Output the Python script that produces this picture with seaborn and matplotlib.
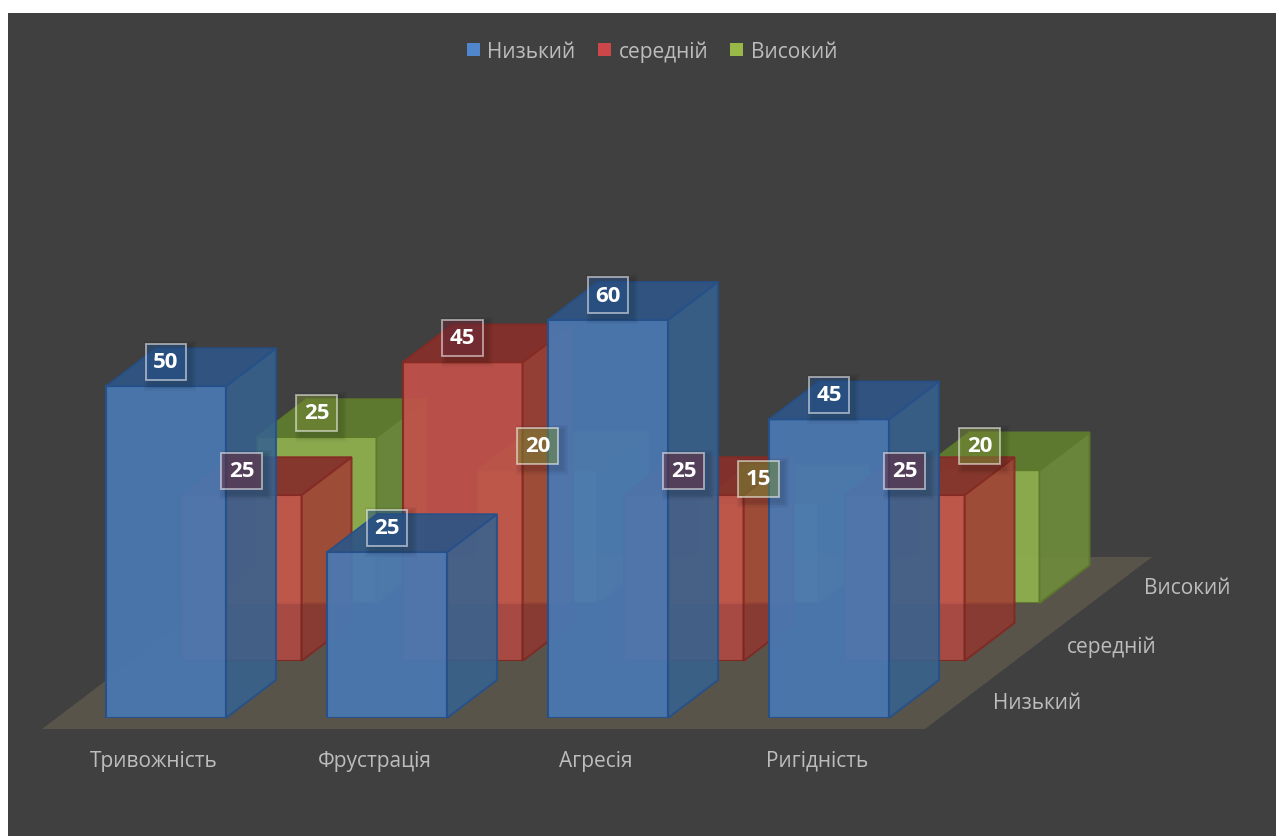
import matplotlib
matplotlib.use("Agg")
import matplotlib.pyplot as plt
from matplotlib.colors import to_rgba
from matplotlib.patches import Patch, Polygon, Rectangle
import seaborn as sns
import pandas as pd

categories = ["Тривожність", "Фрустрація", "Агресія", "Ригідність"]
levels = ["Низький", "середній", "Високий"]
low_values = [50, 25, 60, 45]
mid_values = [25, 45, 25, 25]
high_values = [25, 20, 15, 20]
series_values = [low_values, mid_values, high_values]

front_colors = ["#4a78b2", "#c0524a", "#8fb04e"]
side_colors = ["#36628f", "#a03f35", "#6f8f3c"]
top_colors = ["#2f5584", "#86302b", "#5f7d2e"]
edge_colors = ["#25508a", "#862a24", "#5d7a2c"]
legend_colors = ["#4f86cc", "#cb474a", "#98b848"]
label_colors = ["#2a5a9a", "#7a2f40", "#8aa040"]
BG = "#404040"
FLOOR = "#59544a"
TEXT = "#bdbdbd"
FONT = ["Open Sans", "DejaVu Sans"]

W, H, DPI = 1276, 837, 100
CAT_PX = 221.0          # pixels per category
UNIT_PX = 6.635         # pixels per value unit
AX_W, AX_H = 4 * CAT_PX, 560.0
BAR_W = 120 / CAT_PX
DEPTH_X, DEPTH_Y = 50 / CAT_PX, 38 / UNIT_PX
ROW_SHIFT = [(0, 0), (75.5, 57), (150.5, 115)]
X0, BASE = 55.5, 719

sns.set_theme(style="dark")
plt.rcParams["font.family"] = FONT

df = pd.DataFrame(
    [(c, lev, v) for lev, vals in zip(levels, series_values) for c, v in zip(categories, vals)],
    columns=["category", "level", "value"],
)

fig = plt.figure(figsize=(W / DPI, H / DPI), dpi=DPI, facecolor="white")
fig.add_artist(Rectangle((8 / W, 0), 1 - 8 / W, 1 - 14 / H, transform=fig.transFigure,
                         fc=BG, ec="none", zorder=-5))


def make_axes(dx, dy, z):
    ax = fig.add_axes([(X0 + dx) / W, (H - BASE + dy) / H, AX_W / W, AX_H / H], zorder=z)
    ax.patch.set_visible(False)
    return ax


def finish(ax):
    ax.set_xlim(-0.5, 3.5)
    ax.set_ylim(0, AX_H / UNIT_PX)
    ax.set_xlabel("")
    ax.set_ylabel("")
    ax.set_yticks([])
    sns.despine(ax=ax, left=True, bottom=True)
    ax.grid(False)


# floor sits behind everything, in the coordinates of the front row
floor_ax = make_axes(0, 0, 0)
finish(floor_ax)
floor_ax.set_xticks([])
fy0, fy1 = -11 / UNIT_PX, 161 / UNIT_PX
floor_ax.add_patch(Polygon(
    [(-0.5 + (42 - X0) / CAT_PX, fy0), (-0.5 + (925 - X0) / CAT_PX, fy0),
     (-0.5 + (1152 - X0) / CAT_PX, fy1), (-0.5 + (269 - X0) / CAT_PX, fy1)],
    closed=True, fc=FLOOR, ec="none", clip_on=False))

for r in [2, 1, 0]:
    dx, dy = ROW_SHIFT[r]
    ax = make_axes(dx, dy, 3 - r)
    sub = df[df["level"] == levels[r]]
    sns.barplot(data=sub, x="category", y="value", ax=ax, order=categories, width=BAR_W,
                color=front_colors[r], saturation=1, alpha=0.94,
                edgecolor=edge_colors[r], linewidth=1.5, errorbar=None)
    finish(ax)
    for i, v in enumerate(series_values[r]):
        x0, x1 = i - BAR_W / 2, i + BAR_W / 2
        side = Polygon([(x1, 0), (x1 + DEPTH_X, DEPTH_Y), (x1 + DEPTH_X, v + DEPTH_Y), (x1, v)],
                       closed=True, fc=side_colors[r], ec=edge_colors[r], lw=1.5,
                       alpha=0.88, clip_on=False, zorder=3)
        top = Polygon([(x0, v), (x1, v), (x1 + DEPTH_X, v + DEPTH_Y), (x0 + DEPTH_X, v + DEPTH_Y)],
                      closed=True, fc=top_colors[r], ec=edge_colors[r], lw=1.2,
                      alpha=0.94, clip_on=False, zorder=3)
        ax.add_patch(side)
        ax.add_patch(top)
        if r == 1:
            # darker lower band on the middle row
            band_h = 57.5 / UNIT_PX
            ax.add_patch(Rectangle((x0, 0), BAR_W, band_h, fc="#2a1a18", alpha=0.13,
                                   ec="none", zorder=4))
            band = Rectangle((x1, 0), DEPTH_X, band_h, fc="#2a1a18", alpha=0.13,
                             ec="none", zorder=4, clip_on=True)
            ax.add_patch(band)
            band.set_clip_path(side)
        ly = v + 24.5 / UNIT_PX
        # soft shadow behind each value label, built from nested faint boxes
        for grow in [12, 9, 6, 3]:
            sw, sh = (40 + grow) / CAT_PX, (38 + grow) / UNIT_PX
            fig.add_artist(Rectangle((i + 4 / CAT_PX - sw / 2, ly - 4 / UNIT_PX - sh / 2), sw, sh,
                                     transform=ax.transData, fc=(0, 0, 0, 0.035), ec="none",
                                     zorder=15))
        fig.text(i, ly, str(v), transform=ax.transData, ha="center",
                 va="center", color="white", fontsize=16, fontweight="bold",
                 family=FONT, zorder=20,
                 bbox=dict(boxstyle="square,pad=0.34",
                           fc=to_rgba(label_colors[r], 0.45),
                           ec=(1, 1, 1, 0.55), lw=1.3))
    if r == 0:
        ax.set_xticks([i - 12 / CAT_PX for i in range(4)], categories)
        ax.tick_params(axis="x", length=0, pad=23, labelsize=15, labelcolor=TEXT)
    else:
        ax.set_xticks([])
    ax.text(3.94, 15 / UNIT_PX, levels[r], ha="center", va="center", color=TEXT,
            fontsize=15, clip_on=False)

handles = [Patch(fc=c, ec="none", label=l) for c, l in zip(legend_colors, levels)]
leg = fig.legend(handles=handles, loc="center", bbox_to_anchor=(652 / W, 1 - 52 / H), ncol=3,
                 frameon=False, fontsize=15, labelcolor=TEXT, handlelength=0.62,
                 handleheight=0.62, handletextpad=0.38, columnspacing=1.05)
leg.set_zorder(20)

fig.savefig("out.png", dpi=DPI, facecolor="white")
